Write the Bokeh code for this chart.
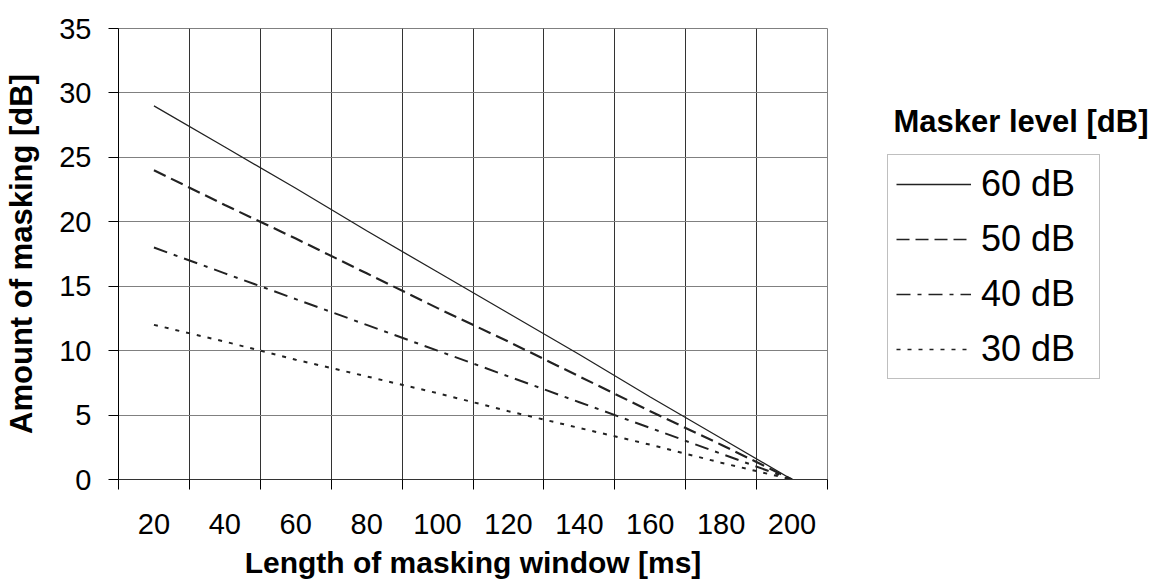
from bokeh.plotting import figure
from bokeh.layouts import row
from bokeh.models import (Range1d, FixedTicker, Legend, LegendItem, Label,
                          CustomJSTickFormatter)
from bokeh.embed import file_html
from bokeh.resources import INLINE

# ---- data ----
categories = ["20", "40", "60", "80", "100", "120", "140", "160", "180", "200"]
masking_60 = [29.0, 25.8, 22.6, 19.3, 16.1, 12.9, 9.7, 6.4, 3.2, 0.0]
masking_50 = [24.0, 21.3, 18.7, 16.0, 13.3, 10.7, 8.0, 5.3, 2.7, 0.0]
masking_40 = [18.0, 16.0, 14.0, 12.0, 10.0, 8.0, 6.0, 4.0, 2.0, 0.0]
masking_30 = [12.0, 10.7, 9.3, 8.0, 6.7, 5.3, 4.0, 2.7, 1.3, 0.0]
series_names = ["60 dB", "50 dB", "40 dB", "30 dB"]
legend_title = "Masker level [dB]"
y_ticks = [0, 5, 10, 15, 20, 25, 30, 35]

FONT = "Liberation Sans"
LINE_COLOR = "#222222"
styles = [("solid", 1.3), ("13 6", 2.2), ("14 7 4 7", 2.0), ("4 7", 2.0)]

# category slots: each category occupies one unit, points sit at slot centres
n = len(categories)
edges = list(range(n + 1))
centers = [i + 0.5 for i in range(n)]
series = [masking_60, masking_50, masking_40, masking_30]

p = figure(width=828, height=586,
           x_range=Range1d(0, n),
           y_range=Range1d(y_ticks[0], y_ticks[-1]),
           output_backend="svg", toolbar_location=None,
           min_border_left=118, min_border_right=1,
           min_border_top=28, min_border_bottom=107)
p.background_fill_color = "white"
p.border_fill_color = "white"
p.outline_line_color = "#808080"
p.outline_line_width = 1

xaxis = p.xaxis[0]
xaxis.ticker = FixedTicker(ticks=centers, minor_ticks=edges)
xaxis.formatter = CustomJSTickFormatter(args=dict(labels=categories),
                                        code="return labels[Math.floor(tick)];")
xaxis.major_tick_line_color = None
xaxis.minor_tick_line_color = "#000000"
xaxis.minor_tick_out = 10
xaxis.minor_tick_in = 0
xaxis.axis_line_color = "#333333"
xaxis.major_label_text_font = FONT
xaxis.major_label_text_font_size = "29px"
xaxis.major_label_text_color = "#000000"
xaxis.major_label_standoff = 24
xaxis.axis_label = "Length of masking window [ms]"
xaxis.axis_label_text_font = FONT
xaxis.axis_label_text_font_style = "bold"
xaxis.axis_label_text_font_size = "30px"
xaxis.axis_label_text_color = "#000000"
xaxis.axis_label_standoff = 9

p.xgrid.ticker = FixedTicker(ticks=edges)
p.xgrid.grid_line_color = "#333333"
p.xgrid.grid_line_width = 1

yaxis = p.yaxis[0]
yaxis.ticker = FixedTicker(ticks=y_ticks)
yaxis.major_tick_out = 10
yaxis.major_tick_in = 0
yaxis.major_tick_line_color = "#000000"
yaxis.minor_tick_line_color = None
yaxis.axis_line_color = "#000000"
yaxis.major_label_text_font = FONT
yaxis.major_label_text_font_size = "29px"
yaxis.major_label_text_color = "#000000"
yaxis.major_label_standoff = 17
yaxis.axis_label = "Amount of masking [dB]"
yaxis.axis_label_text_font = FONT
yaxis.axis_label_text_font_style = "bold"
yaxis.axis_label_text_font_size = "31px"
yaxis.axis_label_text_color = "#000000"
yaxis.axis_label_standoff = 17
p.ygrid.ticker = FixedTicker(ticks=y_ticks)
p.ygrid.grid_line_color = "#808080"

# ---- lines ----
for vals, (dash, w) in zip(series, styles):
    p.line(centers, vals, line_color=LINE_COLOR, line_width=w,
           line_dash=dash, line_cap="butt")

# ---- legend panel (separate figure to the right; its frame is aligned
#      with the main frame, so positions are relative to that frame) ----
p2 = figure(width=325, height=586, x_range=Range1d(-2, -1),
            y_range=Range1d(y_ticks[0], y_ticks[-1]),
            x_axis_type=None, y_axis_type=None,
            output_backend="svg", toolbar_location=None,
            min_border_left=0, min_border_right=0,
            min_border_top=28, min_border_bottom=107)
p2.outline_line_color = None
p2.background_fill_color = "white"
p2.border_fill_color = "white"
p2.xgrid.visible = False
p2.ygrid.visible = False

items = []
for name, vals, (dash, w) in zip(series_names, series, styles):
    # same series, outside this panel's visible x range: only the legend sample shows
    r = p2.line(centers, vals, line_color=LINE_COLOR, line_width=min(w, 1.6),
                line_dash=dash, line_cap="butt")
    items.append(LegendItem(label=name, renderers=[r]))

legend = Legend(items=items, location=(59, 100))
legend.label_text_font = FONT
legend.label_text_font_size = "36px"
legend.label_text_color = "#000000"
legend.label_height = 40
legend.label_width = 110
legend.glyph_height = 40
legend.glyph_width = 75
legend.label_standoff = 10
legend.spacing = 13
legend.padding = 8
legend.margin = 0
legend.border_line_color = "#808080"
legend.border_line_width = 1
legend.background_fill_color = "white"
legend.background_fill_alpha = 1.0
p2.add_layout(legend, "center")

title = Label(x=65, y=358, x_units="screen", y_units="screen",
              text=legend_title, text_font=FONT, text_font_style="bold",
              text_font_size="31px", text_color="#000000", text_baseline="alphabetic")
p2.add_layout(title)

layout = row(p, p2, spacing=0)
open("out.html", "w").write(file_html(layout, INLINE))
